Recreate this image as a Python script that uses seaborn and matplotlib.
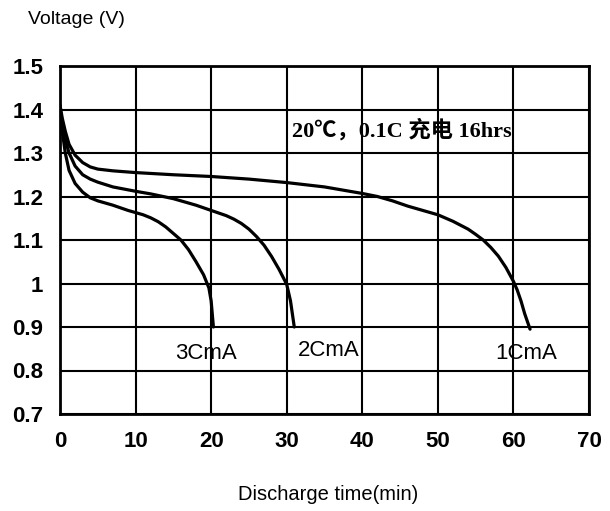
import pandas as pd
import matplotlib
matplotlib.use("Agg")
import matplotlib.pyplot as plt
import seaborn as sns

# curvas de descarga
t_1c = [0, 0.3, 0.7, 1.2, 2, 3, 4, 5, 7, 10, 15, 20, 25, 30, 35, 40, 42, 44, 46, 48, 50, 52, 54, 55, 56, 57,
        58, 59, 60, 60.5, 61, 61.5, 62.2]
v_1c = [1.41, 1.38, 1.35, 1.32, 1.295, 1.278, 1.268, 1.263, 1.259, 1.255, 1.25, 1.246, 1.24, 1.232, 1.222,
        1.207, 1.2, 1.19, 1.178, 1.168, 1.158, 1.143, 1.125, 1.113, 1.10, 1.083, 1.063, 1.037, 1.005, 0.985,
        0.96, 0.93, 0.895]

t_2c = [0, 0.3, 0.7, 1.2, 2, 3, 4, 5, 7, 10, 12, 15, 18, 20, 22, 23, 24, 25, 26, 27, 28, 29, 30, 30.5, 31]
v_2c = [1.40, 1.37, 1.33, 1.30, 1.27, 1.25, 1.24, 1.233, 1.222, 1.212, 1.206, 1.195, 1.18, 1.168, 1.156,
        1.148, 1.138, 1.125, 1.108, 1.088, 1.062, 1.032, 0.998, 0.96, 0.90]

t_3c = [0, 0.3, 0.7, 1.2, 2, 3, 4, 5, 7, 9, 11, 12, 13, 14, 15, 16, 17, 18, 19, 19.7, 20, 20.3]
v_3c = [1.40, 1.35, 1.30, 1.26, 1.23, 1.21, 1.197, 1.19, 1.18, 1.168, 1.158, 1.151, 1.142, 1.13, 1.115,
        1.10, 1.078, 1.05, 1.02, 0.99, 0.96, 0.90]

x_ticks = [0, 10, 20, 30, 40, 50, 60, 70]
y_ticks = [0.7, 0.8, 0.9, 1, 1.1, 1.2, 1.3, 1.4, 1.5]
y_labels = ["0.7", "0.8", "0.9", "1", "1.1", "1.2", "1.3", "1.4", "1.5"]

datos = pd.concat([
    pd.DataFrame({"t": t_1c, "v": v_1c, "curva": "1CmA"}),
    pd.DataFrame({"t": t_2c, "v": v_2c, "curva": "2CmA"}),
    pd.DataFrame({"t": t_3c, "v": v_3c, "curva": "3CmA"}),
])

sns.set_style("white")
plt.rcParams["font.family"] = ["Liberation Sans", "DejaVu Sans"]
plt.rcParams["text.color"] = "black"
plt.rcParams["xtick.color"] = "black"
plt.rcParams["ytick.color"] = "black"

fig = plt.figure(figsize=(6.1, 5.11), dpi=100)
ax = fig.add_axes([60 / 610, 1 - 414 / 511, 529 / 610, 348 / 511])

sns.lineplot(data=datos, x="t", y="v", hue="curva", palette=["black"] * 3, linewidth=2.3,
             legend=False, ax=ax, sort=False, estimator=None)

ax.set_xlim(0, 70)
ax.set_ylim(0.7, 1.5)
ax.set_xticks(x_ticks)
ax.set_yticks(y_ticks)
ax.set_yticklabels(y_labels)
ax.grid(True, color="black", linewidth=1.5)
for s in ax.spines.values():
    s.set_color("black")
    s.set_linewidth(2)
ax.tick_params(length=0, pad=12, labelsize=16, labelcolor="black")
for lab in ax.get_xticklabels() + ax.get_yticklabels():
    lab.set_fontweight("bold")
ax.set_xlabel("")
ax.set_ylabel("")

# etiquetas de las curvas
ax.text(19.3, 0.84, "3CmA", fontsize=16, ha="center", va="center", color="black")
ax.text(31.5, 0.845, "2CmA", fontsize=16, ha="left", va="center", color="black")
ax.text(61.7, 0.84, "1CmA", fontsize=16, ha="center", va="center", color="black")

ax.text(30.7, 1.352, "20℃，0.1C 充电 16hrs", fontsize=16, fontweight="bold", ha="left", va="center",
        family=["Liberation Serif", "Noto Sans CJK SC"], color="black")

fig.text(28 / 610, 1 - 20 / 511, "Voltage (V)", fontsize=14, ha="left", va="center", color="black")
fig.text(328 / 610, 1 - 494 / 511, "Discharge time(min)", fontsize=14.5, ha="center", va="center",
         color="black")

plt.savefig("out.png", dpi=100)
